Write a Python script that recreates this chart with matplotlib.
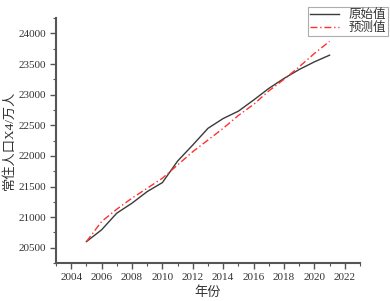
import matplotlib
matplotlib.use("Agg")
import matplotlib.pyplot as plt
from matplotlib.ticker import MultipleLocator

years = [2005, 2006, 2007, 2008, 2009, 2010, 2011, 2012, 2013, 2014, 2015, 2016, 2017, 2018, 2019, 2020, 2021]
original = [20600, 20793, 21065, 21228, 21417, 21564, 21915, 22178, 22450, 22610, 22730, 22911, 23101, 23264, 23410, 23535, 23644]
predicted = [20600, 20928, 21130, 21310, 21472, 21635, 21852, 22069, 22259, 22450, 22660, 22840, 23060, 23250, 23453, 23672, 23870]
labels = ["原始值", "预测值"]
xlabel = "年份"
ylabel = "常住人口X4/万人"

fam = ["Liberation Serif", "Noto Sans CJK SC"]
plt.rcParams["font.family"] = fam

fig = plt.figure(figsize=(3.9, 3.01), dpi=100)
ax = fig.add_axes([0.1436, 0.126, 0.923 - 0.1436, 0.940 - 0.126])

ax.plot(years, original, color="#3a3a3a", lw=1.0, label=labels[0])
ax.plot(years, predicted, color="#ff3030", lw=1.0, dashes=(5, 2, 1, 2), label=labels[1])

ax.set_xlim(2003, 2023)
ax.set_ylim(20250, 24250)
ax.xaxis.set_minor_locator(MultipleLocator(1))
ax.yaxis.set_minor_locator(MultipleLocator(250))
ax.set_xticks(range(2004, 2023, 2))
ax.set_yticks(range(20500, 24001, 500))

for s in ["top", "right"]:
    ax.spines[s].set_visible(False)
for s in ["left", "bottom"]:
    ax.spines[s].set_color("#555555")
    ax.spines[s].set_linewidth(1.5)
ax.tick_params(which="major", direction="out", length=4, width=1, color="#555555", labelsize=8, labelcolor="#333333", pad=3)
ax.tick_params(which="minor", direction="out", length=2, width=0.8, color="#555555")

ax.set_xlabel(xlabel, fontsize=9.5, color="#333333", labelpad=3)
ax.set_ylabel(ylabel, fontsize=9.5, color="#333333", labelpad=2)

leg = ax.legend(loc="upper right", bbox_to_anchor=(1.092, 1.045), fontsize=9, frameon=True,
                fancybox=False, edgecolor="#999999", handlelength=2.3, borderpad=0.15,
                labelspacing=0.1, handletextpad=0.8, borderaxespad=0)
leg.get_frame().set_linewidth(0.8)
for t in leg.get_texts():
    t.set_color("#333333")

fig.savefig("out.png", dpi=100)
